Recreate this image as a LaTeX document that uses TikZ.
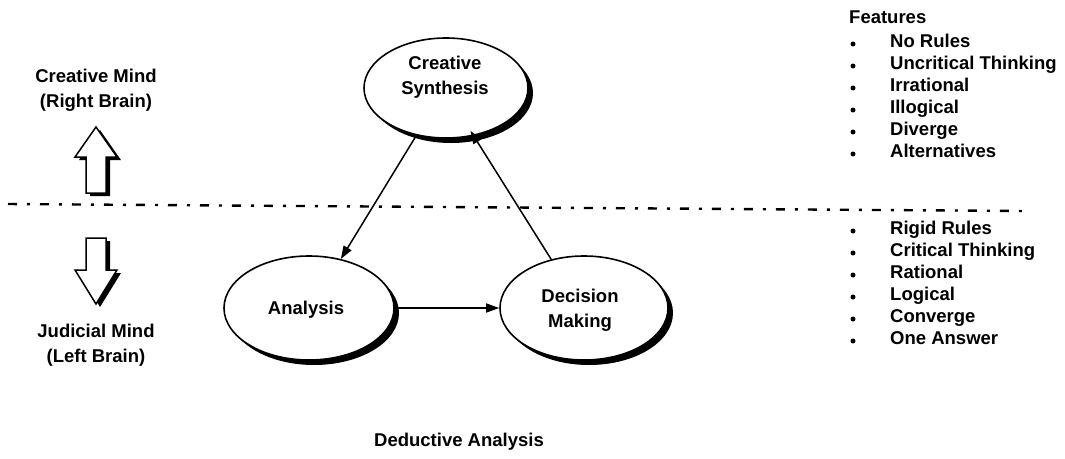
\documentclass[tikz,border=0pt]{standalone}
\usepackage{fontspec}
\setmainfont{Liberation Sans}
\usetikzlibrary{arrows.meta,shadows,shapes.geometric}

\tikzset{
  lbl/.style={font=\bfseries\fontsize{18.5}{25}\selectfont, inner sep=0pt, align=center},
  item/.style={font=\bfseries\fontsize{18.5}{22}\selectfont, inner sep=0pt,
    text height=13pt, text depth=4pt, anchor=west},
  bulletdot/.style={circle, fill=black, inner sep=0pt, minimum size=5pt},
  ellbox/.style={ellipse, draw=black, line width=1.6pt, fill=white, inner sep=0pt,
    drop shadow={shadow xshift=5pt, shadow yshift=-5pt, fill=black, opacity=1}},
  conn/.style={line width=1.5pt, -{Triangle[length=13pt,width=9pt]}},
  divider/.style={line width=2.4pt, dash pattern=on 9pt off 10pt on 3pt off 10pt},
  blockarrow/.style={draw=black, line width=1.5pt, fill=white, line join=miter,
    drop shadow={shadow xshift=4pt, shadow yshift=-3pt, fill=black, opacity=1}}
}

\begin{document}
\begin{tikzpicture}[x=1pt, y=-1pt]
  \useasboundingbox (0,0) rectangle (1065,458);

  % left-hand labels
  \node[lbl] (cmind) at (96,90) {Creative Mind\\(Right Brain)};
  \node[lbl] (jmind) at (96,345) {Judicial Mind\\(Left Brain)};

  % hollow block arrows
  \path[blockarrow] (96,127) -- (117,157) -- (106,157) -- (106,193) -- (86,193)
    -- (86,157) -- (75,157) -- cycle;
  \path[blockarrow] (86,238) -- (106,238) -- (106,270) -- (117,270) -- (96,304)
    -- (75,270) -- (86,270) -- cycle;

  % dash-dot divider between the two minds
  \coordinate (divL) at (8,204);
  \coordinate (divR) at (1024,211);
  \draw[divider] (divL) -- (divR);

  % the three stages
  \node[ellbox, minimum width=164pt, minimum height=100pt] (cs) at (446,88) {};
  \node[ellbox, minimum width=170pt, minimum height=104pt] (an) at (309,308) {};
  \node[ellbox, minimum width=168pt, minimum height=104pt] (dm) at (584,308) {};
  \node[lbl] (cst) at (445,77) {Creative\\Synthesis};
  \node[lbl] (ant) at (306,310) {Analysis};
  \node[lbl] (dmt) at (580,310) {Decision\\Making};

  \draw[conn] (cs.238) -- (an.57);
  \draw[conn] (an.east) -- (dm.west);
  \draw[conn, shorten >=-6pt] (dm.124) -- (cs.-60);

  % feature lists
  \node[item] (feat) at (849,19) {Features};
  \foreach \t [count=\i] in {No Rules, Uncritical Thinking, Irrational, Illogical, Diverge, Alternatives} {
    \node[bulletdot] (ub\i) at (853,{44+22*(\i-1)}) {};
    \node[item] (ut\i) at (890,{43+22*(\i-1)}) {\t};
  }
  \foreach \t [count=\i] in {Rigid Rules, Critical Thinking, Rational, Logical, Converge, One Answer} {
    \node[bulletdot] (lb\i) at (853,{231+22*(\i-1)}) {};
    \node[item] (lt\i) at (890,{230+22*(\i-1)}) {\t};
  }

  % caption
  \node[lbl] (caption) at (459,442) {Deductive Analysis};
\end{tikzpicture}
\end{document}
